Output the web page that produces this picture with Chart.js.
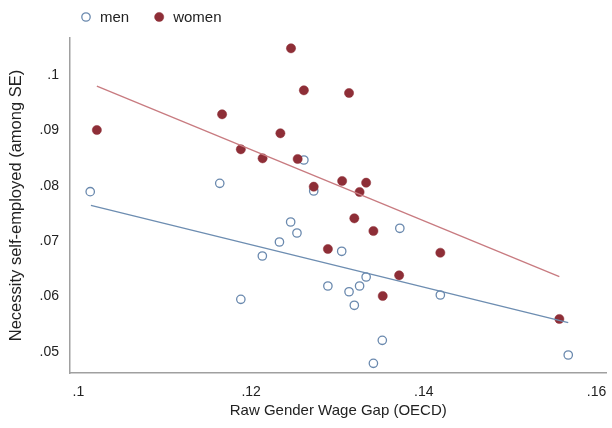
<!DOCTYPE html>
<html>
<head>
<meta charset="utf-8">
<script src="https://cdn.jsdelivr.net/npm/chart.js@4.4.1/dist/chart.umd.min.js"></script>
<style>
  html, body { margin: 0; padding: 0; background: #ffffff; }
  #wrap { width: 612px; height: 428px; }
</style>
</head>
<body>
<div id="wrap"><canvas id="chart" width="612" height="428"></canvas></div>
<script>
// Raw gender wage gap (OECD) vs. share of necessity self-employed, by sex
const menGap = [0.10137, 0.11637, 0.12611, 0.12725, 0.12458, 0.12531, 0.12328, 0.12130, 0.11881, 0.13049,
                0.12889, 0.13134, 0.13256, 0.13332, 0.13195, 0.13722, 0.14191, 0.13519, 0.13416, 0.15672];
const menShare = [0.07894, 0.08045, 0.08466, 0.07906, 0.07347, 0.07148, 0.06986, 0.06733, 0.05951, 0.06818,
                  0.06191, 0.06088, 0.06191, 0.06354, 0.05843, 0.07233, 0.06029, 0.05211, 0.04796, 0.04946];
const womenGap = [0.10214, 0.11664, 0.11881, 0.12133, 0.12339, 0.12462, 0.12611, 0.12539, 0.12725, 0.13134,
                  0.13054, 0.13332, 0.13256, 0.13195, 0.13416, 0.12889, 0.13714, 0.13524, 0.14191, 0.15569];
const womenShare = [0.09007, 0.09291, 0.08659, 0.08496, 0.08948, 0.10482, 0.09724, 0.08484, 0.07984, 0.09675,
                    0.08087, 0.08056, 0.07888, 0.07413, 0.07184, 0.06859, 0.06384, 0.06011, 0.06792, 0.05596];

// Linear fit lines (endpoints over each group's range)
const menFitGap = [0.10145, 0.15672];
const menFitShare = [0.07648, 0.05529];
const womenFitGap = [0.10214, 0.15569];
const womenFitShare = [0.09801, 0.06359];

const xTicks = [0.10, 0.12, 0.14, 0.16];
const yTicks = [0.05, 0.06, 0.07, 0.08, 0.09, 0.10];
const seriesNames = ['men', 'women'];

const FONT = "'Liberation Sans', Arial, Helvetica, sans-serif";
const MEN_COLOR = '#6a89ae';
const WOMEN_COLOR = '#8e2e37';
const MEN_LINE = '#6d8db1';
const WOMEN_LINE = '#c87b80';

const toPoints = (xs, ys) => xs.map((x, i) => ({ x: x, y: ys[i] }));
const fmt = v => String(+Number(v).toFixed(3)).replace(/^0\./, '.');

// Legend row above the plot: hollow / filled markers with their labels
const topLegend = {
  id: 'topLegend',
  afterDraw(chart) {
    const ctx = chart.ctx;
    const y = 17;
    let cx = 86;
    ctx.save();
    ctx.font = '15px ' + FONT;
    ctx.textBaseline = 'middle';
    ctx.textAlign = 'left';
    chart.data.datasets.filter(d => d.isGroup).forEach(d => {
      ctx.beginPath();
      ctx.arc(cx, y, d.pointRadius, 0, Math.PI * 2);
      ctx.fillStyle = d.backgroundColor;
      ctx.fill();
      ctx.lineWidth = d.pointBorderWidth;
      ctx.strokeStyle = d.borderColor;
      ctx.stroke();
      ctx.fillStyle = '#222222';
      const tx = cx + 14;
      ctx.fillText(d.label, tx, y + 1);
      cx = tx + ctx.measureText(d.label).width + 30;
    });
    ctx.restore();
  }
};

new Chart(document.getElementById('chart'), {
  type: 'scatter',
  data: {
    datasets: [
      {
        label: seriesNames[0],
        isGroup: true,
        data: toPoints(menGap, menShare),
        pointStyle: 'circle',
        pointRadius: 4.2,
        pointBorderWidth: 1.3,
        backgroundColor: '#ffffff',
        borderColor: MEN_COLOR,
        order: 4
      },
      {
        label: seriesNames[1],
        isGroup: true,
        data: toPoints(womenGap, womenShare),
        pointStyle: 'circle',
        pointRadius: 4.6,
        pointBorderWidth: 0.5,
        backgroundColor: WOMEN_COLOR,
        borderColor: WOMEN_COLOR,
        order: 3
      },
      {
        label: 'men fit',
        type: 'line',
        data: toPoints(menFitGap, menFitShare),
        borderColor: MEN_LINE,
        borderWidth: 1.3,
        pointRadius: 0,
        fill: false,
        order: 2
      },
      {
        label: 'women fit',
        type: 'line',
        data: toPoints(womenFitGap, womenFitShare),
        borderColor: WOMEN_LINE,
        borderWidth: 1.3,
        pointRadius: 0,
        fill: false,
        order: 1
      }
    ]
  },
  options: {
    responsive: false,
    animation: false,
    devicePixelRatio: 1,
    layout: { padding: { top: 38, right: 0, bottom: 0, left: 0 } },
    plugins: {
      legend: { display: false },
      tooltip: { enabled: false }
    },
    scales: {
      x: {
        type: 'linear',
        min: 0.09903,
        max: 0.16115,
        grid: { display: false, drawTicks: true, tickLength: 8 },
        border: { display: true, color: '#a0a0a0', width: 1.5 },
        afterBuildTicks: s => { s.ticks = xTicks.map(v => ({ value: v })); },
        afterFit: s => { s.height = 55; s.paddingLeft = 0; s.paddingRight = 0; },
        ticks: {
          color: '#222222',
          font: { family: FONT, size: 14 },
          padding: 3,
          maxRotation: 0,
          callback: v => fmt(v)
        },
        title: {
          display: true,
          text: 'Raw Gender Wage Gap (OECD)',
          color: '#222222',
          font: { family: FONT, size: 15 },
          padding: { top: 4, bottom: 8 }
        }
      },
      y: {
        type: 'linear',
        min: 0.04621,
        max: 0.10668,
        grid: { display: false, drawTicks: true, tickLength: 8 },
        border: { display: true, color: '#a0a0a0', width: 1.5 },
        afterBuildTicks: s => { s.ticks = yTicks.map(v => ({ value: v })); },
        afterFit: s => { s.width = 70; },
        ticks: {
          color: '#222222',
          font: { family: FONT, size: 14 },
          padding: 3,
          callback: v => fmt(v)
        },
        title: {
          display: true,
          text: 'Necessity self-employed (among SE)',
          color: '#222222',
          font: { family: FONT, size: 16.5 },
          padding: { top: 7, bottom: 4 }
        }
      }
    }
  },
  plugins: [topLegend]
});
</script>
</body>
</html>
